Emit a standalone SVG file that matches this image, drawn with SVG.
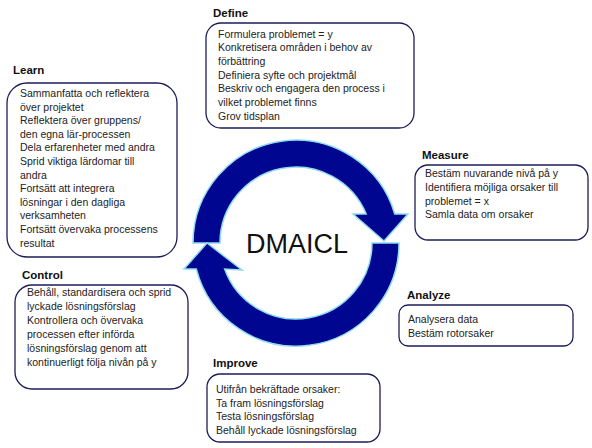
<svg xmlns="http://www.w3.org/2000/svg" width="592" height="448" viewBox="0 0 592 448">
<style>
.box{fill:#fff;stroke:#1c1c5a;stroke-width:1.3}
.t{font-family:"Liberation Sans",Arial,sans-serif;font-size:10.5px;fill:#222}
.h{font-family:"Liberation Sans",Arial,sans-serif;font-size:11.5px;font-weight:bold;fill:#111}
.arc{fill:#00068f;stroke:#8fdcec;stroke-width:1.5;stroke-linejoin:miter}
</style>
<rect width="592" height="448" fill="#fff"/>
<g id="connectors">
<path class="arc" d="M193,243 A103,103 0 0 1 394.8,214 L408,214 L384,241 L353,214 L366.2,214 A76,76 0 0 0 220,243 Z"/>
<path class="arc" d="M399,243 A103,103 0 0 1 196.3,269 L184,269 L207,243 L242,270 L224.6,269 A76,76 0 0 0 372,243 Z"/>
</g>
<g id="center">
<text x="297" y="253" text-anchor="middle" font-family="Liberation Sans,Arial,sans-serif" font-size="27" fill="#111">DMAICL</text>
</g>
<g id="define">
<text class="h" x="213" y="17">Define</text>
<rect class="box" x="206" y="23" width="208" height="105" rx="15"/>
<text class="t" x="218" y="37.5">Formulera problemet = y</text>
<text class="t" x="218" y="51.2">Konkretisera områden i behov av</text>
<text class="t" x="218" y="64.9">förbättring</text>
<text class="t" x="218" y="78.6">Definiera syfte och projektmål</text>
<text class="t" x="218" y="92.3">Beskriv och engagera den process i</text>
<text class="t" x="218" y="106">vilket problemet finns</text>
<text class="t" x="218" y="119.7">Grov tidsplan</text>
</g>
<g id="learn">
<text class="h" x="13" y="74">Learn</text>
<rect class="box" x="7" y="83" width="170" height="174" rx="20"/>
<text class="t" x="20" y="97">Sammanfatta och reflektera</text>
<text class="t" x="20" y="110.6">över projektet</text>
<text class="t" x="20" y="124.2">Reflektera över gruppens/</text>
<text class="t" x="20" y="137.8">den egna lär-processen</text>
<text class="t" x="20" y="151.4">Dela erfarenheter med andra</text>
<text class="t" x="20" y="165">Sprid viktiga lärdomar till</text>
<text class="t" x="20" y="178.6">andra</text>
<text class="t" x="20" y="192.2">Fortsätt att integrera</text>
<text class="t" x="20" y="205.8">lösningar i den dagliga</text>
<text class="t" x="20" y="219.4">verksamheten</text>
<text class="t" x="20" y="233">Fortsätt övervaka processens</text>
<text class="t" x="20" y="246.6">resultat</text>
</g>
<g id="measure">
<text class="h" x="422" y="159">Measure</text>
<rect class="box" x="415" y="165" width="173" height="75" rx="13"/>
<text class="t" x="425" y="177">Bestäm nuvarande nivå på y</text>
<text class="t" x="425" y="190.8">Identifiera möjliga orsaker till</text>
<text class="t" x="425" y="204.6">problemet = x</text>
<text class="t" x="425" y="218.4">Samla data om orsaker</text>
</g>
<g id="control">
<text class="h" x="22" y="279">Control</text>
<rect class="box" x="15" y="285" width="173" height="104" rx="17"/>
<text class="t" x="27" y="296">Behåll, standardisera och sprid</text>
<text class="t" x="27" y="310">lyckade lösningsförslag</text>
<text class="t" x="27" y="324">Kontrollera och övervaka</text>
<text class="t" x="27" y="338">processen efter införda</text>
<text class="t" x="27" y="352">lösningsförslag genom att</text>
<text class="t" x="27" y="366">kontinuerligt följa nivån på y</text>
</g>
<g id="analyze">
<text class="h" x="407" y="299">Analyze</text>
<rect class="box" x="399" y="305" width="174" height="41" rx="9"/>
<text class="t" x="408" y="323">Analysera data</text>
<text class="t" x="408" y="337">Bestäm rotorsaker</text>
</g>
<g id="improve">
<text class="h" x="213" y="367">Improve</text>
<rect class="box" x="207" y="374" width="173" height="68" rx="13"/>
<text class="t" x="216" y="393">Utifrån bekräftade orsaker:</text>
<text class="t" x="216" y="406.7">Ta fram lösningsförslag</text>
<text class="t" x="216" y="420.4">Testa lösningsförslag</text>
<text class="t" x="216" y="434.1">Behåll lyckade lösningsförslag</text>
</g>
</svg>
